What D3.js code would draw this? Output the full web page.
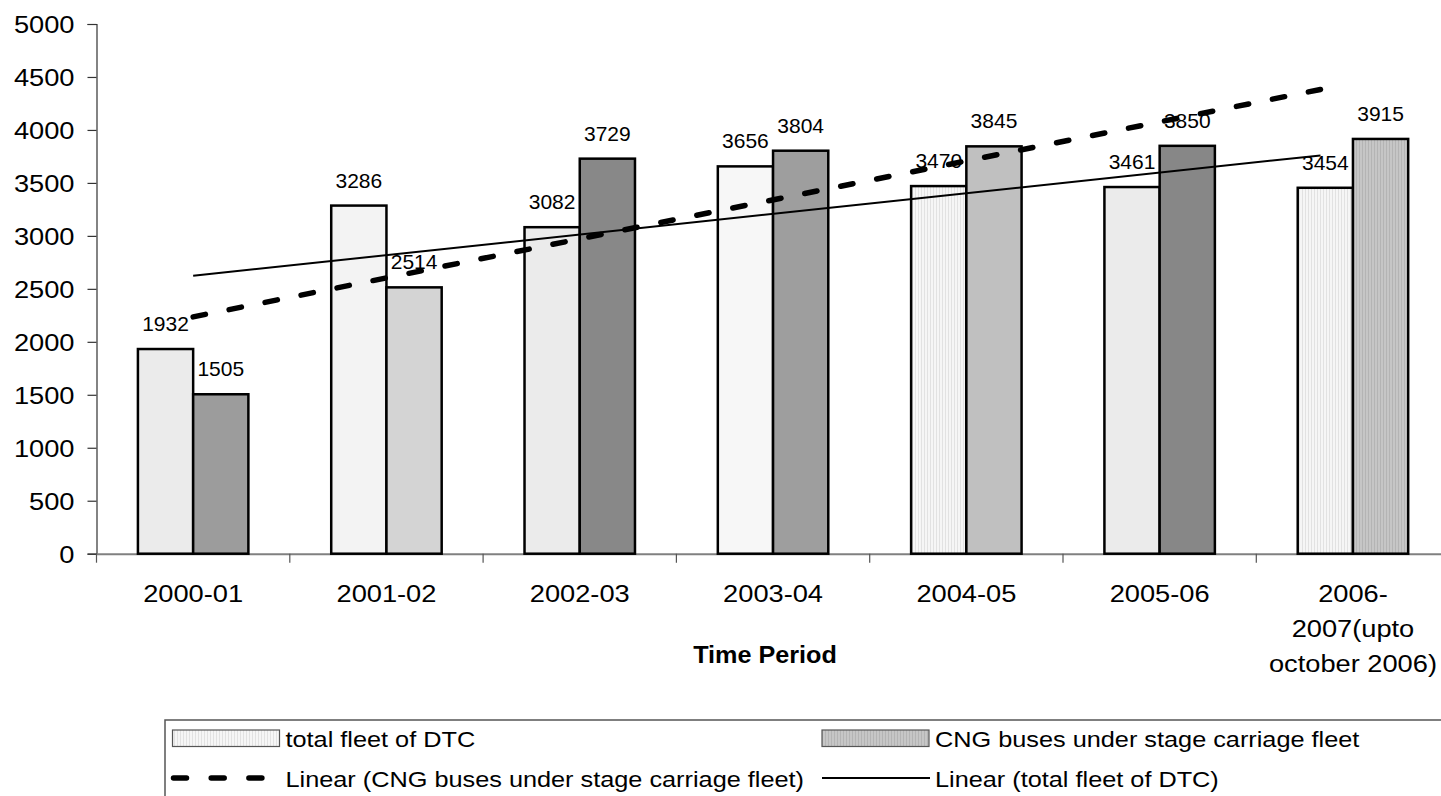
<!DOCTYPE html>
<html>
<head>
<meta charset="utf-8">
<script src="https://cdn.jsdelivr.net/npm/d3@7"></script>
<style>
  html, body { margin: 0; padding: 0; background: #fff; }
  svg { display: block; font-family: "Liberation Sans", Arial, sans-serif; }
</style>
</head>
<body>
<svg id="chart" width="1441" height="796"></svg>
<script>
// ---------------- data ----------------
const categories = ["2000-01", "2001-02", "2002-03", "2003-04", "2004-05", "2005-06", "2006-2007(upto october 2006)"];
const categoryLabelLines = [["2000-01"], ["2001-02"], ["2002-03"], ["2003-04"], ["2004-05"], ["2005-06"], ["2006-", "2007(upto", "october 2006)"]];
const totalFleet = [1932, 3286, 3082, 3656, 3470, 3461, 3454];
const cngBuses   = [1505, 2514, 3729, 3804, 3845, 3850, 3915];
const yTicks = [0, 500, 1000, 1500, 2000, 2500, 3000, 3500, 4000, 4500, 5000];
const seriesNames = ["total fleet of DTC", "CNG buses under stage carriage fleet"];
const trendNames = ["Linear (CNG buses under stage carriage fleet)", "Linear (total fleet of DTC)"];
const xTitle = "Time Period";

// ---------------- styles / layout ----------------
const fillTotal = ["#ebebeb", "#f3f3f3", "#ebebeb", "#f7f7f7", "url(#stripeLight)", "#ebebeb", "url(#stripeLight)"];
const fillCng   = ["#9c9c9c", "#d4d4d4", "#888888", "#9e9e9e", "#c0c0c0", "#878787", "url(#stripeMid)"];
const plotLeft = 96.5, step = 193.3, plotTop = 24, plotBottom = 553.7;
const trendSpan = 0.972;
const tickSX = 1.135, legendSX = 1.15, titleSX = 1.05;

const svg = d3.select("#chart");
const defs = svg.append("defs");
function stripe(id, bg, line) {
  const p = defs.append("pattern").attr("id", id).attr("patternUnits", "userSpaceOnUse")
    .attr("width", 3).attr("height", 10);
  p.append("rect").attr("width", 3).attr("height", 10).attr("fill", bg);
  p.append("rect").attr("width", 1).attr("height", 10).attr("fill", line);
}
stripe("stripeLight", "#f6f6f6", "#e2e2e2");
stripe("stripeMid", "#c6c6c6", "#b4b4b4");

// horizontally stretched text helper
function sText(parent, px, py, size, anchor, sx, lines, lineH, weight) {
  const g = parent.append("g").attr("transform", `translate(${px},${py}) scale(${sx},1)`);
  const t = g.append("text").attr("x", 0).attr("y", 0).attr("text-anchor", anchor)
    .attr("font-size", size).attr("fill", "#000");
  if (weight) t.attr("font-weight", weight);
  lines.forEach((ln, j) => t.append("tspan").attr("x", 0).attr("dy", j === 0 ? 0 : lineH).text(ln));
  return t;
}

const x = d3.scaleBand().domain(categories)
  .range([plotLeft, plotLeft + categories.length * step]).paddingInner(0).paddingOuter(0);
const y = d3.scaleLinear().domain([0, 5000]).range([plotBottom, plotTop]);
const bw = x.bandwidth() / 3.5;
const groupOffset = (x.bandwidth() - 2 * bw) / 2;

// ---------------- axes ----------------
const yAxis = d3.axisLeft(y).tickValues(yTicks).tickSize(9).tickPadding(13).tickFormat(d3.format("d"));
const gy = svg.append("g").attr("transform", `translate(${plotLeft},0)`).call(yAxis);
gy.select(".domain").attr("stroke", "#333").attr("stroke-width", 1.2);
gy.selectAll(".tick line").attr("stroke", "#333").attr("stroke-width", 1.2);
gy.selectAll(".tick text")
  .attr("font-size", 24).attr("fill", "#000").attr("font-family", "Liberation Sans, Arial, sans-serif")
  .attr("dy", "0.36em")
  .attr("x", -22 / tickSX)
  .attr("transform", `scale(${tickSX},1)`);

const xAxis = d3.axisBottom(x).tickSize(0).tickFormat("");
const gx = svg.append("g").attr("transform", `translate(0,${plotBottom})`).call(xAxis);
gx.select(".domain").attr("stroke", "#808080").attr("stroke-width", 2);
const boundaries = d3.range(categories.length + 1).map(i => plotLeft + i * x.step());
svg.append("g").selectAll("line").data(boundaries).join("line")
  .attr("x1", d => d).attr("x2", d => d)
  .attr("y1", plotBottom).attr("y2", plotBottom + 9)
  .attr("stroke", "#555").attr("stroke-width", 1.2);

// category labels
const catG = svg.append("g");
categories.forEach((c, i) => {
  sText(catG, x(c) + x.bandwidth() / 2, 602, 24, "middle", tickSX, categoryLabelLines[i], 35);
});

sText(svg, 765, 663, 24, "middle", titleSX, [xTitle], 0, "bold");

// ---------------- bars ----------------
const barG = svg.append("g");
barG.selectAll("rect.total").data(totalFleet).join("rect").attr("class", "total")
  .attr("x", (d, i) => x(categories[i]) + groupOffset)
  .attr("y", d => y(d)).attr("width", bw).attr("height", d => y(0) - y(d))
  .attr("fill", (d, i) => fillTotal[i]).attr("stroke", "#000").attr("stroke-width", 2.5);
barG.selectAll("rect.cng").data(cngBuses).join("rect").attr("class", "cng")
  .attr("x", (d, i) => x(categories[i]) + groupOffset + bw)
  .attr("y", d => y(d)).attr("width", bw).attr("height", d => y(0) - y(d))
  .attr("fill", (d, i) => fillCng[i]).attr("stroke", "#000").attr("stroke-width", 2.5);

// ---------------- data labels ----------------
const lblG = svg.append("g").attr("font-size", 21).attr("text-anchor", "middle").attr("fill", "#000");
lblG.selectAll("text.t").data(totalFleet).join("text").attr("class", "t")
  .attr("x", (d, i) => x(categories[i]) + groupOffset + bw / 2)
  .attr("y", d => y(d) - 18).text(d => d);
lblG.selectAll("text.c").data(cngBuses).join("text").attr("class", "c")
  .attr("x", (d, i) => x(categories[i]) + groupOffset + bw * 1.5)
  .attr("y", d => y(d) - 18).text(d => d);

// ---------------- trend lines ----------------
function linReg(vals) {
  const n = vals.length, xs = d3.range(1, n + 1);
  const mx = d3.mean(xs), my = d3.mean(vals);
  const sxy = d3.sum(xs, (xv, i) => (xv - mx) * (vals[i] - my));
  const sxx = d3.sum(xs, xv => (xv - mx) * (xv - mx));
  const slope = sxy / sxx, intercept = my - slope * mx;
  return [1, n].map(xv => ({ x: xv, y: intercept + slope * xv }));
}
const trendStart = x(categories[0]) + x.bandwidth() / 2;
const tx = d3.scaleLinear().domain([1, categories.length])
  .range([trendStart, trendStart + (categories.length - 1) * x.step() * trendSpan]);
const line = d3.line().x(d => tx(d.x)).y(d => y(d.y));

svg.append("path").datum(linReg(totalFleet)).attr("d", line)
  .attr("fill", "none").attr("stroke", "#000").attr("stroke-width", 2);
svg.append("path").datum(linReg(cngBuses)).attr("d", line)
  .attr("fill", "none").attr("stroke", "#000").attr("stroke-width", 5.5)
  .attr("stroke-linecap", "round").attr("stroke-dasharray", "12.5,24.2");

// ---------------- legend ----------------
const lg = svg.append("g");
lg.append("rect").attr("x", 165).attr("y", 720).attr("width", 1400).attr("height", 120)
  .attr("fill", "#fff").attr("stroke", "#555").attr("stroke-width", 1.5);
const legendCols = [172.5, 822];
const rowY = [738, 778];
const legendFills = ["url(#stripeLight)", "url(#stripeMid)"];
seriesNames.forEach((name, i) => {
  lg.append("rect").attr("x", legendCols[i]).attr("y", rowY[0] - 8).attr("width", 107).attr("height", 16.5)
    .attr("fill", legendFills[i]).attr("stroke", "#555").attr("stroke-width", 1.2);
  sText(lg, legendCols[i] + 113, rowY[0] + 8.5, 22, "start", legendSX, [name], 0);
});
lg.append("line").attr("x1", legendCols[0] + 1).attr("x2", legendCols[0] + 107)
  .attr("y1", rowY[1]).attr("y2", rowY[1])
  .attr("stroke", "#000").attr("stroke-width", 5.5).attr("stroke-linecap", "round")
  .attr("stroke-dasharray", "13,24.7");
sText(lg, legendCols[0] + 113, rowY[1] + 8.5, 22, "start", legendSX, [trendNames[0]], 0);
lg.append("line").attr("x1", legendCols[1]).attr("x2", legendCols[1] + 108)
  .attr("y1", rowY[1]).attr("y2", rowY[1]).attr("stroke", "#000").attr("stroke-width", 2);
sText(lg, legendCols[1] + 113, rowY[1] + 8.5, 22, "start", legendSX, [trendNames[1]], 0);
</script>
</body>
</html>
